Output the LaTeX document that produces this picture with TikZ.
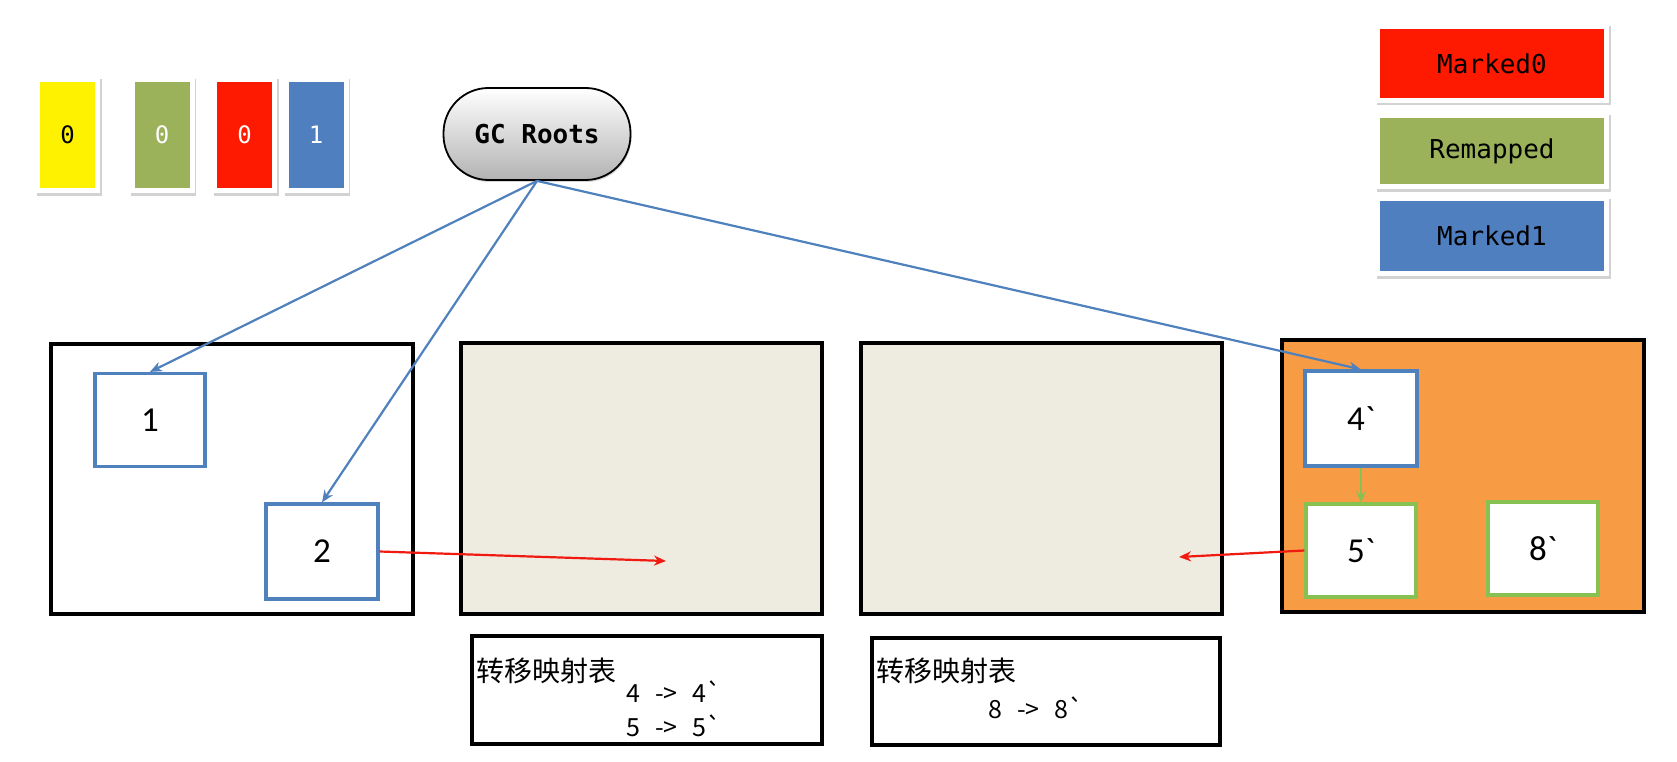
\documentclass[tikz,border=0pt]{standalone}
\usepackage{fontspec}
\newfontfamily\monof{DejaVu Sans Mono}[Ligatures=TeXOff]
\newfontfamily\numf{Carlito}[Ligatures=TeXOff]
\newfontfamily\cjk{Noto Sans CJK SC}[Ligatures=TeXOff]
\usetikzlibrary{arrows.meta,shadows}
\definecolor{cyellow}{HTML}{FFF200}
\definecolor{cgreen}{HTML}{9BB15A}
\definecolor{cred}{HTML}{FE1A00}
\definecolor{cblue}{HTML}{4F7FBF}
\definecolor{corange}{HTML}{F89B45}
\definecolor{cbeige}{HTML}{EEEBE1}
\definecolor{nblue}{HTML}{4F81BD}
\definecolor{ngreen}{HTML}{86C152}
\definecolor{aline}{HTML}{4F81BD}
\definecolor{ared}{HTML}{F01A10}
\tikzset{
  frame/.style={fill=white, draw=none, drop shadow={shadow xshift=1.5pt, shadow yshift=-2.5pt, opacity=0.35}},
  card/.style={draw=none, inner sep=0pt, minimum width=55pt, minimum height=106pt, font=\monof\fontsize{24}{28}\selectfont},
  legend/.style={draw=none, inner sep=0pt, minimum width=224pt, font=\monof\fontsize{26}{30}\selectfont},
  region/.style={draw=black, line width=3.2pt, inner sep=0pt},
  obj/.style={fill=white, line width=3.2pt, inner sep=0pt, minimum width=110pt, minimum height=93pt, font=\numf\fontsize{35}{40}\selectfont},
  objblue/.style={obj, draw=nblue},
  objgreen/.style={obj, draw=ngreen},
  table/.style={draw=black, line width=3.2pt, fill=white, inner sep=0pt},
  ctext/.style={font=\cjk\fontsize{28}{32}\selectfont, inner sep=0pt, anchor=west},
  ntext/.style={font=\cjk\fontsize{25}{29}\selectfont, inner sep=0pt, anchor=west},
  bluearrow/.style={draw=aline, line width=2.2pt, -{Stealth[length=12pt,width=10pt]}},
  redarrow/.style={draw=ared, line width=2.2pt, -{Stealth[length=12pt,width=10pt]}},
  greenarrow/.style={draw=ngreen, line width=2.2pt, -{Stealth[length=11pt,width=10pt]}},
}
\newcommand{\mapsp}{\hspace{0.6em}}
\begin{document}
\begin{tikzpicture}[x=1pt,y=-1pt]
\useasboundingbox (0,0) rectangle (1677,762);
\fill[white] (0,0) rectangle (1677,762);

% color cards
\node[frame, minimum width=65pt, minimum height=116pt] (fy) at (67.5,135) {};
\node[card, fill=cyellow, text=black] (cy) at (67.5,135) {0};
\node[frame, minimum width=65pt, minimum height=116pt] (fg) at (162,135) {};
\node[card, fill=cgreen, text=white] (cg) at (162,135) {0};
\node[frame, minimum width=65pt, minimum height=116pt] (fr) at (244.5,135) {};
\node[card, fill=cred, text=white] (cr) at (244.5,135) {0};
\node[frame, minimum width=65pt, minimum height=116pt] (fb) at (316,135) {};
\node[card, fill=cblue, text=white] (cb) at (316,135) {1};

% GC Roots
\node[draw=black, line width=1.8pt, rounded corners=45pt, minimum width=187pt, minimum height=92pt,
      top color=white, bottom color=black!30, font=\monof\bfseries\fontsize{26}{30}\selectfont,
      drop shadow={shadow xshift=1pt, shadow yshift=-2pt, opacity=0.3}] (gc) at (537,134) {GC Roots};

% legend
\node[frame, minimum width=234pt, minimum height=79pt] (l0f) at (1492,63.5) {};
\node[legend, fill=cred, minimum height=69pt] (l0) at (1492,63.5) {Marked0};
\node[frame, minimum width=234pt, minimum height=76pt] (l1f) at (1492,151) {};
\node[legend, fill=cgreen, minimum height=66pt] (l1) at (1492,151) {Remapped};
\node[frame, minimum width=234pt, minimum height=80pt] (l2f) at (1492,236) {};
\node[legend, fill=cblue, minimum height=70pt] (l2) at (1492,236) {Marked1};

% regions
\node[region, fill=white, minimum width=362pt, minimum height=270pt] (ra) at (232,479) {};
\node[region, fill=cbeige, minimum width=361pt, minimum height=271pt] (rb) at (641.5,478.5) {};
\node[region, fill=cbeige, minimum width=361pt, minimum height=271pt] (rc) at (1041.5,478.5) {};
\node[region, fill=corange, minimum width=362pt, minimum height=272pt] (rd) at (1463,476) {};

% objects
\node[objblue] (n1) at (150,420) {1};
\node[objblue, minimum width=112pt, minimum height=95pt] (n2) at (322,551.5) {2};
\node[objblue, minimum width=112pt, minimum height=95pt] (n4) at (1361,418.5) {4`};
\node[objgreen] (n5) at (1361,550.5) {5`};
\node[objgreen] (n8) at (1543,548.5) {8`};

% tables
\node[table, minimum width=350pt, minimum height=108pt] (t1) at (647,690) {};
\node[table, minimum width=348pt, minimum height=107pt] (t2) at (1046,691.5) {};
\node[ctext] (t1h) at (476,671) {转移映射表};
\node[ntext] (t1a) at (626,692) {4\mapsp->\mapsp4`};
\node[ntext] (t1b) at (626,726) {5\mapsp->\mapsp5`};
\node[ctext] (t2h) at (876,671) {转移映射表};
\node[ntext] (t2a) at (988,708) {8\mapsp->\mapsp8`};

% connectors
\coordinate (pb) at (666,561);
\coordinate (pc) at (1179,557);
\draw[bluearrow] (gc.south) -- (n1.north);
\draw[bluearrow] (gc.south) -- (n2.north);
\draw[bluearrow] (gc.south) -- (n4.north);
\draw[redarrow] (n2.east) -- (pb);
\draw[redarrow] (n5.west) -- (pc);
\draw[greenarrow] (n4.south) -- (n5.north);
\end{tikzpicture}
\end{document}
